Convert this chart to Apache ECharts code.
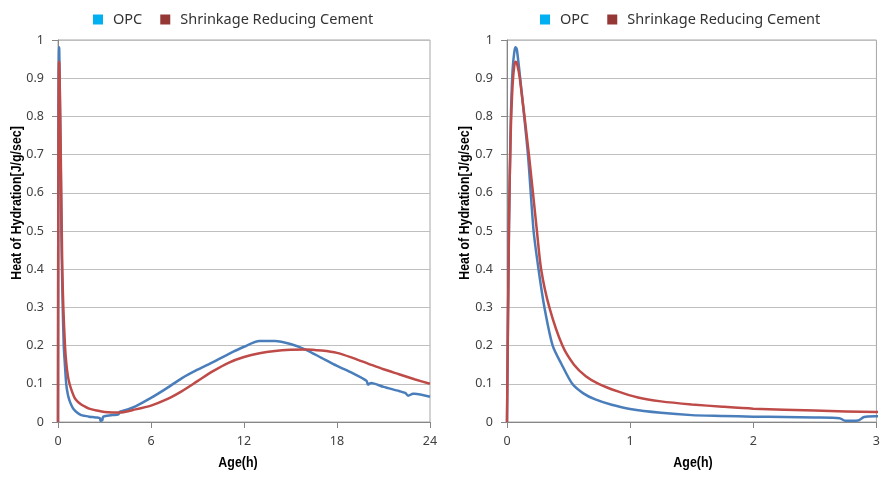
<!DOCTYPE html>
<html>
<head>
<meta charset="utf-8">
<script src="https://cdn.jsdelivr.net/npm/echarts@6/dist/echarts.min.js"></script>
<style>
  html, body { margin: 0; padding: 0; background: #fff; }
  #chart { width: 883px; height: 477px; }
</style>
</head>
<body>
<div id="chart"></div>
<script>
// Heat of hydration measurements (J/g/sec) against age (h)
const opcAge = [0, 0.016, 0.03, 0.045, 0.06, 0.07, 0.08, 0.107, 0.17, 0.216, 0.256, 0.304, 0.371, 0.445, 0.53, 0.62, 0.717, 0.85, 1.0, 1.25, 1.5, 1.75, 2.0, 2.25, 2.5, 2.7, 2.75, 2.85, 2.9, 3.0, 3.5, 3.9, 4.0, 4.5, 5, 6, 7, 8, 9, 10, 11, 12, 13, 14, 15, 16, 17, 18, 19, 19.9, 20.0, 20.2, 21, 22, 22.4, 22.6, 22.9, 23, 24];
const opcHeat = [0, 0.50, 0.78, 0.92, 0.97, 0.981, 0.975, 0.90, 0.70, 0.50, 0.40, 0.30, 0.20, 0.15, 0.10, 0.075, 0.059, 0.045, 0.034, 0.024, 0.018, 0.016, 0.014, 0.013, 0.012, 0.010, 0.003, 0.004, 0.013, 0.015, 0.018, 0.020, 0.027, 0.033, 0.041, 0.063, 0.088, 0.115, 0.137, 0.157, 0.178, 0.197, 0.212, 0.212, 0.204, 0.189, 0.168, 0.147, 0.128, 0.108, 0.098, 0.102, 0.092, 0.081, 0.076, 0.069, 0.074, 0.074, 0.066];

const srcAge = [0, 0.016, 0.03, 0.045, 0.06, 0.07, 0.08, 0.104, 0.178, 0.243, 0.277, 0.344, 0.45, 0.544, 0.64, 0.744, 0.9, 1.064, 1.25, 1.5, 1.75, 2.0, 2.5, 3.0, 3.5, 4, 5, 6, 7, 8, 9, 10, 11, 12, 13, 14, 15, 16, 17, 18, 19, 20, 21, 22, 23, 24];
const srcHeat = [0, 0.52, 0.753, 0.88, 0.935, 0.943, 0.94, 0.90, 0.70, 0.50, 0.40, 0.30, 0.20, 0.15, 0.12, 0.10, 0.08, 0.064, 0.054, 0.046, 0.040, 0.035, 0.030, 0.026, 0.025, 0.025, 0.033, 0.043, 0.059, 0.081, 0.107, 0.133, 0.155, 0.170, 0.180, 0.186, 0.189, 0.190, 0.187, 0.181, 0.168, 0.153, 0.138, 0.125, 0.112, 0.100];

const seriesNames = ['OPC', 'Shrinkage Reducing Cement'];
const legendColors = ['#00B0F0', '#953735'];
const lineColors = ['#4A7EBB', '#BE4B48'];
const fullTicks = [0, 6, 12, 18, 24];
const earlyTicks = [0, 1, 2, 3];
const xTitle = 'Age(h)';
const yTitle = 'Heat of Hydration[J/g/sec]';

const pairs = (xs, ys) => xs.map((x, i) => [x, ys[i]]);
const opcData = pairs(opcAge, opcHeat);
const srcData = pairs(srcAge, srcHeat);

const labelFont = { fontFamily: '"Noto Sans", "Open Sans", sans-serif', fontSize: 12.5, color: '#404040' };

function xAxis(gridIndex, ticks) {
  return {
    type: 'value', gridIndex, min: ticks[0], max: ticks[ticks.length - 1], interval: ticks[1] - ticks[0],
    axisLine: { show: true, lineStyle: { color: '#868686', width: 1 } },
    axisTick: { show: true, inside: false, length: 6, lineStyle: { color: '#868686' } },
    axisLabel: Object.assign({ margin: 13, showMaxLabel: true }, labelFont),
    splitLine: { show: false }
  };
}

function yAxis(gridIndex) {
  return {
    type: 'value', gridIndex, min: 0, max: 1, interval: 0.1,
    axisLine: { show: true, lineStyle: { color: '#868686', width: 1 } },
    axisTick: { show: true, inside: false, length: 6, lineStyle: { color: '#868686' } },
    axisLabel: Object.assign({ margin: 14, formatter: v => String(Math.round(v * 10) / 10) }, labelFont),
    splitLine: { show: true, lineStyle: { color: '#BFBFBF', width: 1 } }
  };
}

function legend(leftX) {
  return {
    left: leftX, top: 7, icon: 'rect', itemWidth: 10, itemHeight: 10, itemGap: 18,
    textStyle: { fontFamily: '"Noto Sans", "Open Sans", sans-serif', fontSize: 14.5, color: '#333', padding: [0, 0, 0, 5] },
    data: seriesNames.map((n, i) => ({ name: n, itemStyle: { color: legendColors[i], borderWidth: 0 } }))
  };
}

// condensed bold axis titles
function title(text, x, y, vertical) {
  return {
    type: 'text', x, y, rotation: vertical ? Math.PI / 2 : 0, scaleX: 0.8, silent: true,
    style: {
      text, fill: '#000', fontSize: 15.5, fontWeight: 'bold',
      fontFamily: '"Liberation Sans", Arial, sans-serif', align: 'center', verticalAlign: 'middle'
    }
  };
}

function line(name, data, idx, color) {
  return {
    type: 'line', name, data, xAxisIndex: idx, yAxisIndex: idx,
    showSymbol: false, symbol: 'none', smooth: 0.25, clip: true,
    lineStyle: { color, width: 2.5 }, itemStyle: { color },
    emphasis: { disabled: true }, z: name === seriesNames[1] ? 3 : 2
  };
}

const chart = echarts.init(document.getElementById('chart'), null, { renderer: 'canvas' });
chart.setOption({
  animation: false,
  backgroundColor: '#fff',
  legend: [legend(88), legend(535)],
  grid: [
    { left: 58, right: 453, top: 40, bottom: 55, show: true, borderColor: '#A6A6A6', borderWidth: 1, backgroundColor: 'transparent' },
    { left: 507, right: 1, top: 40, bottom: 55, show: true, borderColor: '#A6A6A6', borderWidth: 1, backgroundColor: 'transparent' }
  ],
  xAxis: [xAxis(0, fullTicks), xAxis(1, earlyTicks)],
  yAxis: [yAxis(0), yAxis(1)],
  graphic: [
    title(xTitle, 238, 463, false),
    title(xTitle, 693, 463, false),
    title(yTitle, 16.5, 203, true),
    title(yTitle, 465, 203, true)
  ],
  series: [
    line(seriesNames[0], opcData, 0, lineColors[0]),
    line(seriesNames[1], srcData, 0, lineColors[1]),
    line(seriesNames[0], opcData, 1, lineColors[0]),
    line(seriesNames[1], srcData, 1, lineColors[1])
  ]
});
</script>
</body>
</html>
